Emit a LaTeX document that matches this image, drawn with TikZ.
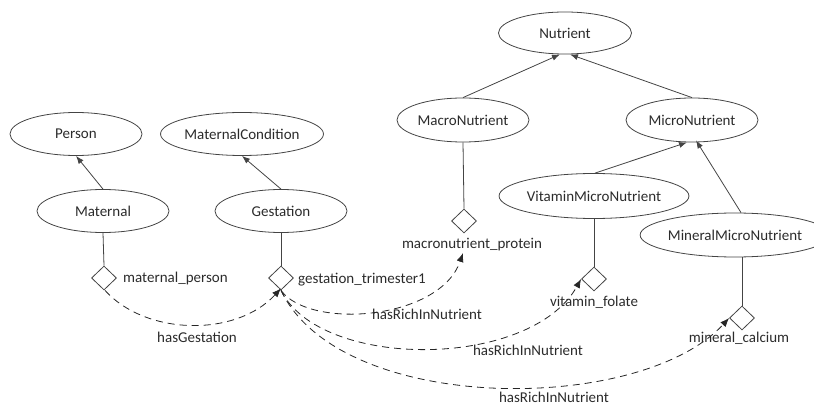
\documentclass[tikz,border=0pt]{standalone}
\usepackage{fontspec}
\setmainfont{Carlito}
\usetikzlibrary{shapes.geometric,arrows.meta}
\definecolor{ink}{HTML}{2B2B2B}
\definecolor{edge}{HTML}{444444}
\tikzset{
  cls/.style={ellipse, draw=edge, line width=0.8pt, inner sep=0pt, text=ink},
  inst/.style={diamond, draw=edge, line width=0.8pt, inner sep=0pt, minimum width=25pt, minimum height=24pt},
  lbl/.style={text=ink, inner sep=0pt},
  isa/.style={draw=edge, line width=0.8pt, -{Latex[length=8pt,width=6pt]}},
  link/.style={draw=edge, line width=0.8pt},
  rel/.style={draw=black!85, line width=0.8pt, dash pattern=on 7pt off 5pt, -{Latex[length=9pt,width=7pt]}},
}
\begin{document}
\begin{tikzpicture}[x=1pt,y=-1pt, font=\fontsize{15}{18}\selectfont]
\useasboundingbox (0,0) rectangle (814,406);
% classes
\node[cls, minimum width=133pt, minimum height=42pt] (nutrient) at (565,33) {Nutrient};
\node[cls, minimum width=132pt, minimum height=44pt] (macro) at (463,120) {MacroNutrient};
\node[cls, minimum width=132pt, minimum height=44pt] (micro) at (692,120) {MicroNutrient};
\node[cls, minimum width=171pt, minimum height=45pt] (vitamin) at (594,196) {VitaminMicroNutrient};
\node[cls, minimum width=158pt, minimum height=44pt] (mineral) at (735,235) {MineralMicroNutrient};
\node[cls, minimum width=132pt, minimum height=43pt] (person) at (76,134) {Person};
\node[cls, minimum width=148pt, minimum height=43pt] (matcond) at (242,134) {MaternalCondition};
\node[cls, minimum width=132pt, minimum height=43pt] (maternal) at (103,211) {Maternal};
\node[cls, minimum width=132pt, minimum height=43pt] (gestation) at (281,211) {Gestation};
% instances
\node[inst] (dmat) at (104,278) {};
\node[inst] (dges) at (281,278) {};
\node[inst] (dmac) at (464,221) {};
\node[inst] (dvit) at (594,279) {};
\node[inst] (dmin) at (742,318) {};
% instance labels
\node[lbl, anchor=west] (tmat) at (123,279) {maternal\_person};
\node[lbl, anchor=west] (tges) at (298,280) {gestation\_trimester1};
\node[lbl] (tmac) at (472,245) {macronutrient\_protein};
\node[lbl] (tvit) at (594,302) {vitamin\_folate};
\node[lbl] (tmin) at (739,338) {mineral\_calcium};
% subclass arrows
\draw[isa] (maternal.north) -- (person.south);
\draw[isa] (gestation.north) -- (matcond.south);
\draw[isa] (macro.north) -- ([xshift=-5pt]nutrient.south);
\draw[isa] (micro.north) -- ([xshift=5pt]nutrient.south);
\draw[isa] ([xshift=1pt]vitamin.north) -- ([xshift=-5pt]micro.south);
\draw[isa] ([xshift=6pt]mineral.north) -- ([xshift=4pt,yshift=2pt]micro.south);
% type links
\draw[link] (maternal.south) -- (dmat.north);
\draw[link] (gestation.south) -- (dges.north);
\draw[link] (macro.south) -- (dmac.north);
\draw[link] (vitamin.south) -- (dvit.north);
\draw[link] (mineral.south -| dmin) -- (dmin.north);
% relations
\coordinate (tipmac) at (463,253);
\draw[rel] ([xshift=1pt]dmat.south) .. controls (145,335) and (235,338) .. ([yshift=2pt]dges.south);
\draw[rel] (dges.south) .. controls (310,330) and (440,320) .. (tipmac);
\draw[rel] (dges.south) .. controls (320,370) and (530,370) .. (dvit.west);
\draw[rel] (dges.south) .. controls (340,415) and (640,415) .. (dmin.west);
% relation labels
\node[lbl] (r0) at (197,337) {hasGestation};
\node[lbl] (r1) at (427,314) {hasRichInNutrient};
\node[lbl] (r2) at (528,350) {hasRichInNutrient};
\node[lbl] (r3) at (554,397) {hasRichInNutrient};
\end{tikzpicture}
\end{document}
